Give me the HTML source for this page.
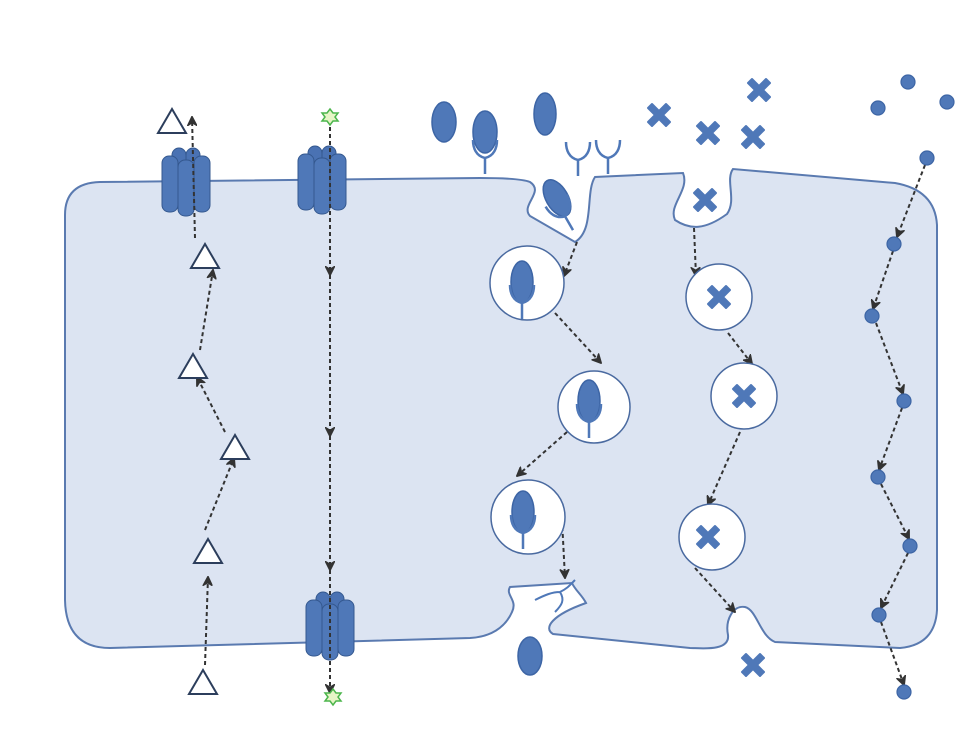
<!DOCTYPE html>
<html><head><meta charset="utf-8"><style>html,body{margin:0;padding:0;background:#fff}svg{display:block}</style></head>
<body>
<svg width="979" height="734" viewBox="0 0 979 734" xmlns="http://www.w3.org/2000/svg">
<defs>
<marker id="ah" viewBox="0 0 10 10" refX="9" refY="5" markerWidth="5" markerHeight="5" orient="auto"><path d="M0,0 L10,5 L0,10 L3,5 Z" fill="#333" stroke="#333" stroke-width="1"/></marker>
<g id="chan">
 <rect x="10" y="0" width="14" height="52" rx="7" fill="#4a72b3" stroke="#34588f" stroke-width="1"/>
 <rect x="24" y="0" width="14" height="52" rx="7" fill="#4a72b3" stroke="#34588f" stroke-width="1"/>
 <rect x="0" y="8" width="16" height="56" rx="7" fill="#4f78b8" stroke="#34588f" stroke-width="1"/>
 <rect x="32" y="8" width="16" height="56" rx="7" fill="#4f78b8" stroke="#34588f" stroke-width="1"/>
 <rect x="16" y="12" width="16" height="56" rx="7" fill="#4f78b8" stroke="#34588f" stroke-width="1"/>
</g>
<g id="tri"><polygon points="0,-12 14,12 -14,12" fill="#fff" stroke="#2c3e5c" stroke-width="2"/></g>
<g id="xx"><path d="M-11,-7 L-7,-11 L0,-4 L7,-11 L11,-7 L4,0 L11,7 L7,11 L0,4 L-7,11 L-11,7 L-4,0 Z" fill="#4f78b8" stroke="#4f78b8" stroke-width="2" stroke-linejoin="round"/></g>
<g id="rec"><path d="M0,14 L0,-2 M0,-2 C-9,-4 -12,-12 -12,-20 M0,-2 C9,-4 12,-12 12,-20" fill="none" stroke="#4f78b8" stroke-width="2.5"/></g>
<g id="star"><path d="M0,-8 L3,-4 L8,-4 L5,0 L8,4 L3,4 L0,8 L-3,4 L-8,4 L-5,0 L-8,-4 L-3,-4 Z" fill="#e6f5c6" stroke="#4cb54c" stroke-width="1.5"/></g>
</defs>

<path d="M65,215 Q65,183 100,182 L480,178 Q520,178 530,182 C545,192 520,205 530,216 L575,242 C595,230 585,192 595,177 L683,173 C690,190 668,205 675,220 C690,230 705,230 727,214 C737,200 725,180 733,169 L895,183 Q935,190 937,225 L937,610 Q935,645 900,648 L775,642 C760,636 757,610 745,607 C733,605 725,620 728,635 C730,652 700,648 690,648 L553,634 C543,628 552,615 586,603 C582,595 575,590 572,583 L510,587 C505,595 518,600 512,612 C505,628 490,637 470,638 L110,648 Q66,648 65,600 Z" fill="#dce4f2" stroke="#5a7ab0" stroke-width="2"/>

<use href="#chan" x="162" y="148"/>
<use href="#chan" x="298" y="146"/>
<use href="#chan" x="306" y="592"/>

<g stroke="#333" stroke-width="2" stroke-dasharray="4,3" fill="none" marker-end="url(#ah)">
 <line x1="195" y1="238" x2="192" y2="117"/>
 <line x1="200" y1="350" x2="213" y2="270"/>
 <line x1="225" y1="432" x2="197" y2="377"/>
 <line x1="205" y1="530" x2="234" y2="458"/>
 <line x1="205" y1="665" x2="208" y2="577"/>
 <line x1="330" y1="120" x2="330" y2="275"/>
 <line x1="330" y1="275" x2="330" y2="436"/>
 <line x1="330" y1="436" x2="330" y2="570"/>
 <line x1="330" y1="570" x2="330" y2="693"/>
 <line x1="577" y1="242" x2="564" y2="276"/>
 <line x1="555" y1="313" x2="601" y2="363"/>
 <line x1="567" y1="432" x2="517" y2="476"/>
 <line x1="562" y1="520" x2="565" y2="578"/>
 <line x1="694" y1="228" x2="696" y2="276"/>
 <line x1="728" y1="333" x2="752" y2="364"/>
 <line x1="740" y1="432" x2="708" y2="505"/>
 <line x1="695" y1="568" x2="735" y2="612"/>
 <line x1="925" y1="165" x2="897" y2="237"/>
 <line x1="893" y1="251" x2="873" y2="309"/>
 <line x1="876" y1="323" x2="903" y2="394"/>
 <line x1="902" y1="408" x2="879" y2="470"/>
 <line x1="881" y1="484" x2="909" y2="539"/>
 <line x1="908" y1="553" x2="881" y2="608"/>
 <line x1="881" y1="622" x2="904" y2="685"/>
</g>

<use href="#tri" x="172" y="121"/>
<use href="#tri" x="205" y="256"/>
<use href="#tri" x="193" y="366"/>
<use href="#tri" x="235" y="447"/>
<use href="#tri" x="208" y="551"/>
<use href="#tri" x="203" y="682"/>
<use href="#star" x="330" y="117"/>
<use href="#star" x="333" y="697"/>

<g fill="#4f78b8" stroke="#3d65a5" stroke-width="1.5">
 <ellipse cx="444" cy="122" rx="12" ry="20"/>
 <ellipse cx="485" cy="132" rx="12" ry="21"/>
 <ellipse cx="545" cy="114" rx="11" ry="21"/>
 <ellipse cx="530" cy="656" rx="12" ry="19"/>
 <ellipse cx="557" cy="198" rx="11" ry="20" transform="rotate(-30 557 198)"/>
</g>
<use href="#rec" x="485" y="160"/>
<use href="#rec" x="578" y="162"/>
<use href="#rec" x="608" y="160"/>
<use href="#rec" transform="translate(566,218) rotate(-30)"/>

<g fill="#fff" stroke="#4a6aa0" stroke-width="1.5">
 <circle cx="527" cy="283" r="37"/>
 <circle cx="594" cy="407" r="36"/>
 <circle cx="528" cy="517" r="37"/>
 <circle cx="719" cy="297" r="33"/>
 <circle cx="744" cy="396" r="33"/>
 <circle cx="712" cy="537" r="33"/>
</g>
<g fill="#4f78b8" stroke="#3d65a5" stroke-width="1.5">
 <ellipse cx="522" cy="282" rx="11" ry="21"/>
 <ellipse cx="589" cy="401" rx="11" ry="21"/>
 <ellipse cx="523" cy="512" rx="11" ry="21"/>
</g>
<use href="#rec" x="522" y="305"/>
<use href="#rec" x="589" y="424"/>
<use href="#rec" x="523" y="535"/>
<path d="M535,600 C545,595 552,592 560,592 M560,592 C565,600 562,605 555,612 M560,592 C568,588 570,585 575,580" fill="none" stroke="#4f78b8" stroke-width="2"/>

<use href="#xx" x="659" y="115"/>
<use href="#xx" x="708" y="133"/>
<use href="#xx" x="759" y="90"/>
<use href="#xx" x="753" y="137"/>
<use href="#xx" x="705" y="200"/>
<use href="#xx" x="719" y="297"/>
<use href="#xx" x="744" y="396"/>
<use href="#xx" x="708" y="537"/>
<use href="#xx" x="753" y="665"/>

<g fill="#4f78b8" stroke="#3d65a5" stroke-width="1.2">
 <circle cx="908" cy="82" r="7"/>
 <circle cx="878" cy="108" r="7"/>
 <circle cx="947" cy="102" r="7"/>
 <circle cx="927" cy="158" r="7"/>
 <circle cx="894" cy="244" r="7"/>
 <circle cx="872" cy="316" r="7"/>
 <circle cx="904" cy="401" r="7"/>
 <circle cx="878" cy="477" r="7"/>
 <circle cx="910" cy="546" r="7"/>
 <circle cx="879" cy="615" r="7"/>
 <circle cx="904" cy="692" r="7"/>
</g>
</svg>
</body></html>
